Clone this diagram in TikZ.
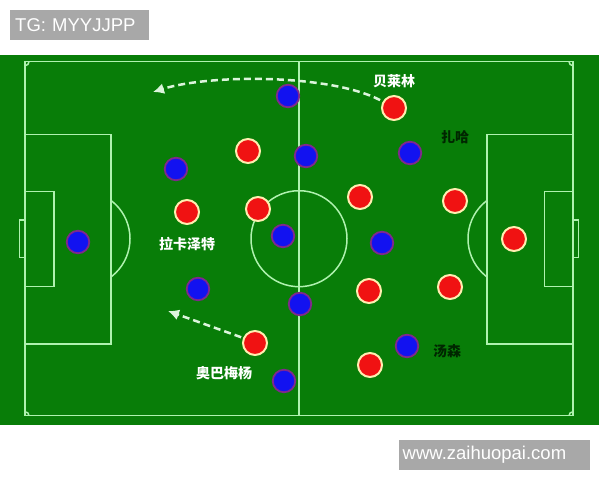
\documentclass[tikz,border=0pt]{standalone}
\usepackage{fontspec}
\setmainfont{Liberation Sans}
\newfontfamily\cjk{Noto Sans CJK SC}
\usetikzlibrary{positioning, arrows.meta}
\definecolor{turf}{RGB}{8,125,8}
\definecolor{chalk}{RGB}{175,242,175}
\definecolor{runline}{RGB}{220,245,220}
\definecolor{redteam}{RGB}{240,18,18}
\definecolor{redrim}{RGB}{255,238,176}
\definecolor{blueteam}{RGB}{18,18,240}
\definecolor{bluerim}{RGB}{128,40,140}
\definecolor{markgray}{RGB}{168,168,168}
\tikzset{
    pitchline/.style={draw=chalk, line width=1.5pt},
    redplayer/.style={circle, draw=redrim, fill=redteam, line width=2pt, minimum size=24pt, inner sep=0pt},
    blueplayer/.style={circle, draw=bluerim, fill=blueteam, line width=1.8pt, minimum size=22.5pt, inner sep=0pt},
    run/.style={-{Latex[length=11pt, width=11pt]}, draw=runline, line width=2.5pt, dash pattern=on 7pt off 4pt},
    playername/.style={font=\cjk\bfseries\fontsize{14}{14}\selectfont, text=white, inner sep=0pt},
    darkname/.style={playername, text=black!85!green},
    watermark/.style={anchor=north west, fill=markgray, text=white, align=left, minimum height=29.3pt, inner ysep=0pt, font=\fontsize{18.5}{18.5}\selectfont}
}
\begin{document}
\begin{tikzpicture}[x=1pt, y=-1pt]
    \useasboundingbox (0,0) rectangle (600,480);

    % Watermarks
    \node[watermark, text width=129pt, inner xsep=5pt] (tag) at (10,10) {TG: MYYJJPP};
    \node[watermark, text width=184pt, inner xsep=3.5pt] (site) at (399,440) {www.zaihuopai.com};

    % Pitch
    \fill[turf] (0,55) rectangle (599,425);
    \draw[pitchline] (25,61.7) rectangle (573,415.7);
    \draw[pitchline] (299,61.7) -- (299,415.7);
    \draw[pitchline] (299,238.7) circle (48pt);
    \draw[pitchline] (25,134.3) rectangle (111,344) (487,134.3) rectangle (573,344);
    \draw[pitchline] (25,191.3) rectangle (54,286.7) (544.3,191.3) rectangle (573,286.7);
    \draw[pitchline] (19.3,220) rectangle (25,257.3) (573,220) rectangle (578.3,257.3);
    \begin{scope}
        \clip (111,0) rectangle (200,480);
        \draw[pitchline] (82,238.7) circle (48pt);
    \end{scope}
    \begin{scope}
        \clip (400,0) rectangle (487,480);
        \draw[pitchline] (516,238.7) circle (48pt);
    \end{scope}
    \begin{scope}
        \clip (25,61.7) rectangle (573,415.7);
        \foreach \c in {(25,61.7), (573,61.7), (25,415.7), (573,415.7)}
            \draw[pitchline] \c circle (4pt);
    \end{scope}

    % Players
    \foreach \pos [count=\i] in {(394,108), (248,151), (187,212), (258,209), (360,197), (455,201),
                                 (514,239), (369,291), (450,287), (370,365), (255,343)}
        \node[redplayer] (r\i) at \pos {};
    \foreach \pos [count=\i] in {(78,242), (288,96), (176,169), (306,156), (410,153), (283,236),
                                 (382,243), (198,289), (300,304), (407,346), (284,381)}
        \node[blueplayer] (b\i) at \pos {};

    % Runs
    \coordinate (runtop) at (153,92);
    \coordinate (runlow) at (168,311);
    \draw[run, shorten <=3pt] (r1.150) .. controls (330,74) and (210,74) .. (runtop);
    \draw[run, shorten <=2pt] (r11.157) -- (runlow);

    % Names
    \node[playername, above=7pt of r1] (bellerin) {贝莱林};
    \node[darkname] (xhaka) at (455,137) {扎哈};
    \node[playername, below=12pt of r3] (lacazette) {拉卡泽特};
    \node[playername] (auba) at (224,373) {奥巴梅杨};
    \node[darkname] (townsend) at (447,351) {汤森};
\end{tikzpicture}
\end{document}
